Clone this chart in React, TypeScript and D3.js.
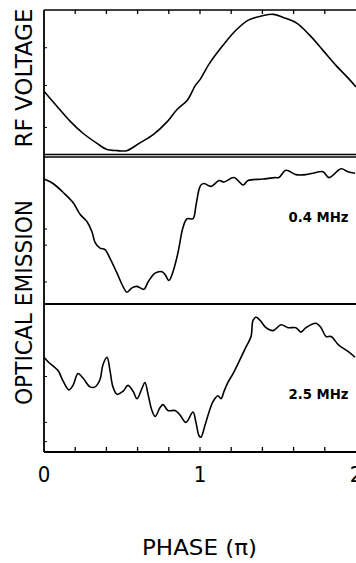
import React from 'react';
import * as d3 from 'd3';

// phase in units of pi, signal in arbitrary units (0 = panel bottom, 1 = panel top)
const rfPhase = [0, 0.08, 0.17, 0.25, 0.34, 0.4, 0.47, 0.53, 0.61, 0.7, 0.79, 0.85, 0.92, 0.97, 1.0, 1.06, 1.15, 1.23, 1.31, 1.4, 1.47, 1.53, 1.62, 1.7, 1.79, 1.87, 1.95, 2.0];
const rfVoltage = [0.44, 0.34, 0.23, 0.15, 0.08, 0.04, 0.03, 0.03, 0.08, 0.14, 0.23, 0.31, 0.38, 0.48, 0.52, 0.63, 0.76, 0.86, 0.93, 0.96, 0.97, 0.95, 0.91, 0.83, 0.72, 0.62, 0.53, 0.47];

const lowPhase = [0, 0.058, 0.122, 0.186, 0.231, 0.276, 0.308, 0.327, 0.359, 0.391, 0.423, 0.468, 0.506, 0.532, 0.564, 0.596, 0.641, 0.667, 0.712, 0.756, 0.776, 0.801, 0.827, 0.859, 0.891, 0.917, 0.955, 0.974, 0.994, 1.006, 1.026, 1.071, 1.122, 1.154, 1.218, 1.276, 1.308, 1.404, 1.481, 1.506, 1.551, 1.615, 1.679, 1.724, 1.788, 1.827, 1.904, 1.949, 1.994];
const lowEmission = [0.85, 0.82, 0.76, 0.69, 0.61, 0.56, 0.49, 0.42, 0.38, 0.37, 0.31, 0.21, 0.12, 0.08, 0.11, 0.12, 0.1, 0.15, 0.21, 0.22, 0.2, 0.16, 0.22, 0.35, 0.52, 0.58, 0.58, 0.67, 0.78, 0.81, 0.82, 0.8, 0.84, 0.83, 0.86, 0.81, 0.84, 0.85, 0.86, 0.86, 0.91, 0.88, 0.88, 0.89, 0.9, 0.86, 0.92, 0.9, 0.89];

const highPhase = [0, 0.026, 0.09, 0.122, 0.16, 0.186, 0.218, 0.25, 0.295, 0.327, 0.359, 0.378, 0.404, 0.423, 0.442, 0.468, 0.506, 0.538, 0.571, 0.596, 0.628, 0.647, 0.667, 0.692, 0.712, 0.744, 0.763, 0.795, 0.84, 0.872, 0.91, 0.955, 0.974, 0.994, 1.006, 1.032, 1.058, 1.083, 1.115, 1.135, 1.154, 1.179, 1.212, 1.25, 1.295, 1.327, 1.34, 1.359, 1.385, 1.423, 1.468, 1.519, 1.564, 1.615, 1.647, 1.679, 1.744, 1.776, 1.808, 1.84, 1.891, 1.949, 1.994];
const highEmission = [0.64, 0.61, 0.55, 0.48, 0.42, 0.45, 0.53, 0.5, 0.44, 0.44, 0.49, 0.59, 0.64, 0.55, 0.44, 0.39, 0.41, 0.45, 0.41, 0.36, 0.43, 0.47, 0.39, 0.28, 0.24, 0.3, 0.32, 0.28, 0.28, 0.25, 0.2, 0.27, 0.2, 0.11, 0.1, 0.18, 0.27, 0.34, 0.38, 0.36, 0.41, 0.47, 0.53, 0.61, 0.71, 0.78, 0.89, 0.91, 0.89, 0.84, 0.82, 0.86, 0.84, 0.84, 0.81, 0.84, 0.87, 0.84, 0.78, 0.78, 0.72, 0.68, 0.64];

const xTickValues = [0, 0.2, 0.4, 0.6, 0.8, 1, 1.2, 1.4, 1.6, 1.8, 2];
const xTickLabels = ['0', '1', '2'];
const frequencyLabels = ['', '0.4 MHz', '2.5 MHz'];

const font = '"Liberation Sans Narrow", "DejaVu Sans Condensed", "Liberation Sans", sans-serif';

export default function App() {
  const width = 356, height = 563;
  const left = 44, right = 356;
  const panels = [
    { top: 10, bottom: 155, xs: rfPhase, ys: rfVoltage, ticks: [0.74, 0.48, 0.19] },
    { top: 157, bottom: 304, xs: lowPhase, ys: lowEmission, ticks: [0.51, 0.4, 0.15] },
    { top: 304, bottom: 452, xs: highPhase, ys: highEmission, ticks: [0.51, 0.2, 0.07] },
  ];

  const x = d3.scaleLinear().domain([0, 2]).range([left, right]);

  return (
    <svg width={width} height={height} style={{ position: 'absolute', left: 0, top: 0, background: '#fff' }}>
      {panels.map((p, i) => {
        const y = d3.scaleLinear().domain([0, 1]).range([p.bottom, p.top]);
        const line = d3.line<number>()
          .x((_, k) => x(p.xs[k]))
          .y(d => y(d))
          .curve(d3.curveCatmullRom.alpha(0.5));
        return (
          <g key={i}>
            <path d={line(p.ys) || ''} fill="none" stroke="#000" strokeWidth={1.6} strokeLinejoin="round" />
            {p.ticks.map((t, k) => (
              <line key={k} x1={left} x2={left + 3} y1={y(t)} y2={y(t)} stroke="#000" strokeWidth={1} />
            ))}
            {frequencyLabels[i] && (
              <text x={x(1.76)} y={y(i === 1 ? 0.56 : 0.36)} textAnchor="middle" fontFamily={font}
                fontSize={14} fontWeight="bold" textLength={60} lengthAdjust="spacingAndGlyphs" fill="#000">
                {frequencyLabels[i]}
              </text>
            )}
          </g>
        );
      })}

      {/* frame */}
      <line x1={left} x2={right} y1={10} y2={10} stroke="#000" strokeWidth={1.5} />
      <line x1={left} x2={right} y1={154.5} y2={154.5} stroke="#000" strokeWidth={1.4} />
      <line x1={left} x2={right} y1={157} y2={157} stroke="#000" strokeWidth={1.4} />
      <line x1={left} x2={right} y1={304} y2={304} stroke="#000" strokeWidth={1.8} />
      <line x1={left} x2={right} y1={452} y2={452} stroke="#000" strokeWidth={1.8} />
      <line x1={left} x2={left} y1={10} y2={452} stroke="#000" strokeWidth={1.8} />

      {xTickValues.slice(1, -1).map((t, k) => (
        <g key={k}>
          <line x1={x(t)} x2={x(t)} y1={10} y2={14} stroke="#000" strokeWidth={1.3} />
          <line x1={x(t)} x2={x(t)} y1={452} y2={447} stroke="#000" strokeWidth={1.3} />
        </g>
      ))}

      {xTickLabels.map((s, k) => (
        <text key={s} x={x(k)} y={482} textAnchor="middle" fontFamily={font} fontSize={22} fill="#000">{s}</text>
      ))}

      <text x={199.5} y={555} textAnchor="middle" fontFamily={font} fontSize={22} fill="#000"
        textLength={115} lengthAdjust="spacingAndGlyphs">PHASE (π)</text>

      <text transform="translate(32,78) rotate(-90)" textAnchor="middle" fontFamily={font} fontSize={23}
        fill="#000" textLength={139} lengthAdjust="spacingAndGlyphs">RF VOLTAGE</text>
      <text transform="translate(32,302.5) rotate(-90)" textAnchor="middle" fontFamily={font} fontSize={23}
        fill="#000" textLength={205} lengthAdjust="spacingAndGlyphs">OPTICAL EMISSION</text>
    </svg>
  );
}
